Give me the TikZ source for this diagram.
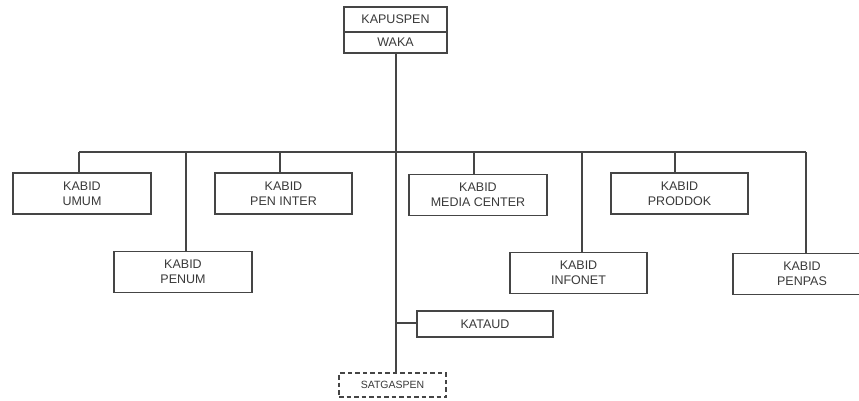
\documentclass[tikz,border=0pt]{standalone}
\usepackage{fontspec}
\setmainfont{Liberation Sans}
\begin{document}
\begin{tikzpicture}[x=1pt,y=-1pt,
  line/.style={draw=linec,line width=1.3pt},
  box/.style={line,fill=white,inner sep=0pt,align=center,text=txtc,
    font=\fontsize{12.5}{15}\selectfont,minimum width=138pt,minimum height=41pt},
]
\definecolor{linec}{HTML}{454545}
\definecolor{txtc}{HTML}{3A3A3A}
\clip (0,0) rectangle (859,400);
\fill[white] (0,0) rectangle (859,400);
% top box
\node[box,minimum width=103pt,minimum height=25pt] (kap) at (395.5,19.5) {KAPUSPEN};
\node[box,minimum width=103pt,minimum height=21pt] (waka) at (395.5,42.5) {WAKA};
% boxes
\node[box] (umum) at (82,193.5) {KABID\\UMUM};
\node[box,minimum width=137pt] (inter) at (283.5,193.5) {KABID\\PEN INTER};
\node[box] (media) at (478,195) {KABID\\MEDIA CENTER};
\node[box,minimum width=137pt] (prod) at (679.5,193.5) {KABID\\PRODDOK};
\node[box] (penum) at (183,272) {KABID\\PENUM};
\node[box,minimum width=137pt] (info) at (578.5,273) {KABID\\INFONET};
\node[box] (penpas) at (802,274) {KABID\\PENPAS};
\node[box,minimum width=136pt,minimum height=26pt] (kataud) at (485,324) {KATAUD};
\node[box,dash pattern=on 4.5pt off 3pt,minimum width=107pt,minimum height=24pt,font=\fontsize{10.5}{12}\selectfont] (satgas) at (392.5,385) {SATGASPEN};
% connectors
\coordinate (top) at (396,53);
\coordinate (bot) at (396,373);
\coordinate (bl) at (79,152);
\coordinate (br) at (806,152);
\coordinate (c1) at (79,152);
\coordinate (c2) at (186,152);
\coordinate (c3) at (280,152);
\coordinate (c4) at (474,152);
\coordinate (c5) at (582,152);
\coordinate (c6) at (675,152);
\coordinate (c7) at (806,152);
\coordinate (kj) at (396,323);
\draw[line] (top) -- (bot);
\draw[line] (bl) -- (br);
\draw[line] (c1) -- (c1 |- umum.north);
\draw[line] (c2) -- (c2 |- penum.north);
\draw[line] (c3) -- (c3 |- inter.north);
\draw[line] (c4) -- (c4 |- media.north);
\draw[line] (c5) -- (c5 |- info.north);
\draw[line] (c6) -- (c6 |- prod.north);
\draw[line] (c7) -- (c7 |- penpas.north);
\draw[line] (kj) -- (kataud.west |- kj);
\end{tikzpicture}
\end{document}
